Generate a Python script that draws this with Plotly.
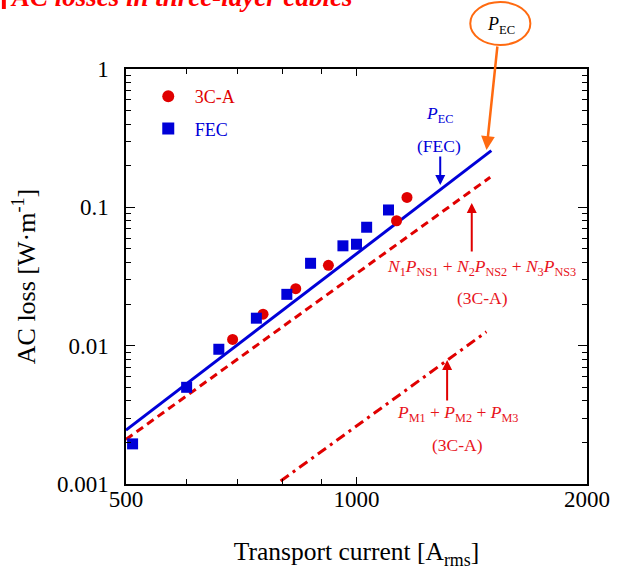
import plotly.graph_objects as go

# ---- data ----
fec_current = [510, 600, 661, 740, 811, 871, 960, 1000, 1031, 1101]
fec_loss = [0.00195, 0.0050, 0.00942, 0.0158, 0.0235, 0.0394, 0.0527, 0.0541, 0.0718, 0.0957]

c3a_current = [689, 755, 833, 919, 1128, 1164]
c3a_loss = [0.0111, 0.0169, 0.0258, 0.0381, 0.080, 0.118]

pec_fec_current = [500, 1500]
pec_fec_loss = [0.00245, 0.257]

pns_current = [500, 1495]
pns_loss = [0.0021, 0.165]

pm_current = [796, 1478]
pm_loss = [0.00105, 0.0126]

x_major = [500, 1000, 2000]
x_major_text = ["500", "1000", "2000"]
x_minor = [600, 700, 800, 900]
y_major = [0.001, 0.01, 0.1, 1]
y_major_text = ["0.001", "0.01", "0.1", "1"]
y_minor = [k * 10 ** e for e in (-3, -2, -1) for k in range(2, 10)]

RED = "#e00000"
RED_T = "#e8141c"
BLUE = "#0000d8"
ORANGE = "#ff6a10"
SERIF = "Liberation Serif"

fig = go.Figure()

fig.add_trace(go.Scatter(x=pec_fec_current, y=pec_fec_loss, mode="lines",
                         line=dict(color=BLUE, width=3), showlegend=False))
fig.add_trace(go.Scatter(x=pns_current, y=pns_loss, mode="lines",
                         line=dict(color=RED, width=3, dash="8px,5px"), showlegend=False))
fig.add_trace(go.Scatter(x=pm_current, y=pm_loss, mode="lines",
                         line=dict(color=RED, width=3, dash="10px,5px,3px,5px"), showlegend=False))
fig.add_trace(go.Scatter(x=c3a_current, y=c3a_loss, mode="markers", legendgroup="a",
                         name='<span style="color:%s">3C-A</span>' % RED,
                         marker=dict(symbol="circle", size=11, color=RED)))
fig.add_trace(go.Scatter(x=fec_current, y=fec_loss, mode="markers", legendgroup="b",
                         name='<span style="color:%s">FEC</span>' % BLUE,
                         marker=dict(symbol="square", size=11, color=BLUE)))

def px(x):
    return (x - 126) / 468.0

def py(y):
    return (484 - y) / 415.0

ann = []
def txt(s, x, y, color, size=17.5, **kw):
    ann.append(dict(text=s, x=px(x), y=py(y), xref="paper", yref="paper",
                    showarrow=False, font=dict(family=SERIF, size=size, color=color),
                    xanchor=kw.get("xanchor", "center"), yanchor=kw.get("yanchor", "middle")))

def arrow(x_head, y_head, x_tail, y_tail, color, width=2, size=1.0):
    ann.append(dict(text="", x=px(x_head), y=py(y_head), xref="paper", yref="paper",
                    showarrow=True, ax=x_tail - x_head, ay=y_tail - y_head,
                    arrowhead=2, arrowsize=size, arrowwidth=width, arrowcolor=color))

txt("<i>P</i><sub>EC</sub>", 444, 114, BLUE)
txt("(FEC)", 444, 146, BLUE)
arrow(445, 185, 445, 155, BLUE)

txt("<i>N</i><sub>1</sub><i>P</i><sub>NS1</sub> + <i>N</i><sub>2</sub><i>P</i><sub>NS2</sub>"
    " + <i>N</i><sub>3</sub><i>P</i><sub>NS3</sub>", 487, 267, RED_T)
txt("(3C-A)", 488, 298, RED_T)
arrow(477, 203, 477, 253, RED)

txt("<i>P</i><sub>M1</sub> + <i>P</i><sub>M2</sub> + <i>P</i><sub>M3</sub>", 463, 413, RED_T)
txt("(3C-A)", 463, 445, RED_T)
arrow(452, 360, 452, 402, RED)

# callout
txt("<i>P</i><sub>EC</sub>", 507, 26, "black", size=18)
arrow(492, 150, 503, 45, ORANGE, width=2.5, size=1.1)

# cropped slide heading
ann.append(dict(text="<b><i>AC losses in three-layer cables</i></b>", x=px(6), y=py(-3),
                xref="paper", yref="paper", showarrow=False, xanchor="left", yanchor="middle",
                font=dict(family=SERIF, size=27, color="#ff0000")))

shapes = [
    dict(type="circle", xref="paper", yref="paper", x0=px(475.5), x1=px(536.5),
         y0=py(45), y1=py(2), line=dict(color=ORANGE, width=2)),
    dict(type="rect", xref="paper", yref="paper", x0=px(0), x1=px(4),
         y0=py(9), y1=py(0), line=dict(width=0), fillcolor="#ff0000"),
]

axis_common = dict(type="log", showline=True, linecolor="black", linewidth=1.5, mirror="ticks",
                   ticks="inside", tickcolor="black", tickwidth=1.2, showgrid=False, zeroline=False,
                   tickfont=dict(family=SERIF, size=23, color="black"))

fig.update_layout(
    width=622, height=574,
    margin=dict(l=126, r=28, t=69, b=90),
    paper_bgcolor="white", plot_bgcolor="white",
    font=dict(family=SERIF, color="black"),
    xaxis=dict(**axis_common, range=[2.69897, 3.30103], tickmode="array",
               tickvals=x_major, ticktext=x_major_text, ticklen=7, ticklabelstandoff=-6,
               minor=dict(tickmode="array", tickvals=x_minor, ticks="inside", ticklen=5,
                          tickcolor="black", tickwidth=1.2, showgrid=False),
               title=dict(text="Transport current [A<sub>rms</sub>]", standoff=31,
                          font=dict(family=SERIF, size=25.5, color="black"))),
    yaxis=dict(**axis_common, range=[-3, 0], tickmode="array",
               tickvals=y_major, ticktext=y_major_text, ticklen=9, ticklabelstandoff=11,
               minor=dict(tickmode="array", tickvals=y_minor, ticks="inside", ticklen=5,
                          tickcolor="black", tickwidth=1.2, showgrid=False),
               title=dict(text="AC loss [W\u00b7m<sup>-1</sup>]", standoff=14,
                          font=dict(family=SERIF, size=26, color="black"))),
    legend=dict(x=px(142), y=py(78), xanchor="left", yanchor="top",
                bgcolor="rgba(0,0,0,0)", font=dict(family=SERIF, size=18, color="black"),
                itemsizing="constant", itemwidth=43, traceorder="grouped", tracegroupgap=6),
    annotations=ann, shapes=shapes,
)

fig.write_html("out.html", config={"displayModeBar": False},
               post_script="document.body.style.margin='0';")
